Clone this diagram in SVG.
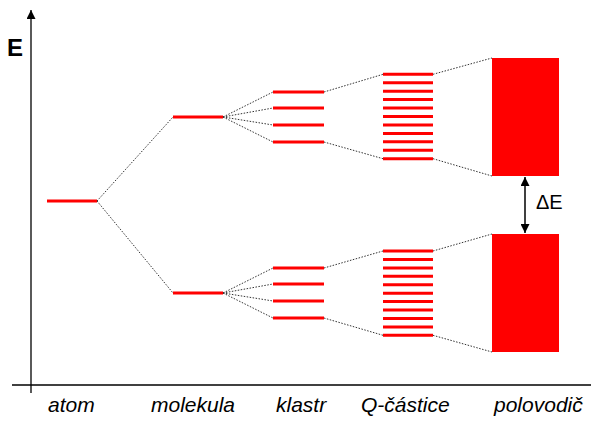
<svg xmlns="http://www.w3.org/2000/svg" width="591" height="421" viewBox="0 0 591 421">
<style>
.lvl{stroke:#ff0000;stroke-width:3;fill:none}
.dot{stroke:#333;stroke-width:1;stroke-dasharray:1.5,1.5;fill:none}
.ax{stroke:#000;stroke-width:1.3;fill:none}
.lab{font-family:"Liberation Sans",Arial,sans-serif;font-style:italic;font-size:21px;fill:#000}
.band{fill:#ff0000}
</style>
<defs>
<marker id="ah" viewBox="0 0 10 10" refX="10" refY="5" markerWidth="9" markerHeight="9" markerUnits="userSpaceOnUse" orient="auto-start-reverse">
<path d="M0,0 L10,5 L0,10 Z" fill="#000"/>
</marker>
</defs>
<g id="axes">
<line class="ax" x1="31" y1="393" x2="31" y2="10" marker-end="url(#ah)"/>
<line class="ax" x1="12" y1="385" x2="591" y2="385"/>
<text x="7" y="56" font-family="Liberation Sans,Arial,sans-serif" font-weight="bold" font-size="24">E</text>
</g>
<g id="connectors">
<line class="dot" x1="97" y1="201" x2="173" y2="117"/>
<line class="dot" x1="97" y1="201" x2="173" y2="293"/>
<line class="dot" x1="223" y1="117" x2="273" y2="92"/>
<line class="dot" x1="223" y1="117" x2="273" y2="108"/>
<line class="dot" x1="223" y1="117" x2="273" y2="125"/>
<line class="dot" x1="223" y1="117" x2="273" y2="142"/>
<line class="dot" x1="223" y1="293" x2="273" y2="268"/>
<line class="dot" x1="223" y1="293" x2="273" y2="284"/>
<line class="dot" x1="223" y1="293" x2="273" y2="301"/>
<line class="dot" x1="223" y1="293" x2="273" y2="318"/>
<line class="dot" x1="324" y1="92" x2="383" y2="74.3"/>
<line class="dot" x1="324" y1="142" x2="383" y2="158.7"/>
<line class="dot" x1="324" y1="268" x2="383" y2="251"/>
<line class="dot" x1="324" y1="318" x2="383" y2="335.3"/>
<line class="dot" x1="433" y1="74.3" x2="492" y2="58"/>
<line class="dot" x1="433" y1="158.7" x2="492" y2="176"/>
<line class="dot" x1="433" y1="251" x2="492" y2="234"/>
<line class="dot" x1="433" y1="335.3" x2="492" y2="352"/>
<line stroke="#000" stroke-width="1.5" x1="525" y1="177" x2="525" y2="233" marker-start="url(#ah)" marker-end="url(#ah)"/>
</g>
<g id="atom">
<line class="lvl" x1="47" y1="201" x2="97" y2="201"/>
<text class="lab" x="48" y="412">atom</text>
</g>
<g id="molekula">
<line class="lvl" x1="173" y1="117" x2="223" y2="117"/>
<line class="lvl" x1="173" y1="293" x2="223" y2="293"/>
<text class="lab" x="151" y="412">molekula</text>
</g>
<g id="klastr">
<line class="lvl" x1="273" y1="92" x2="324" y2="92"/>
<line class="lvl" x1="273" y1="108" x2="324" y2="108"/>
<line class="lvl" x1="273" y1="125" x2="324" y2="125"/>
<line class="lvl" x1="273" y1="142" x2="324" y2="142"/>
<line class="lvl" x1="273" y1="268" x2="324" y2="268"/>
<line class="lvl" x1="273" y1="284" x2="324" y2="284"/>
<line class="lvl" x1="273" y1="301" x2="324" y2="301"/>
<line class="lvl" x1="273" y1="318" x2="324" y2="318"/>
<text class="lab" x="276" y="412">klastr</text>
</g>
<g id="q-castice">
<line class="lvl" x1="383" y1="74.3" x2="433" y2="74.3"/>
<line class="lvl" x1="383" y1="82.7" x2="433" y2="82.7"/>
<line class="lvl" x1="383" y1="91.2" x2="433" y2="91.2"/>
<line class="lvl" x1="383" y1="99.6" x2="433" y2="99.6"/>
<line class="lvl" x1="383" y1="108.1" x2="433" y2="108.1"/>
<line class="lvl" x1="383" y1="116.5" x2="433" y2="116.5"/>
<line class="lvl" x1="383" y1="124.9" x2="433" y2="124.9"/>
<line class="lvl" x1="383" y1="133.4" x2="433" y2="133.4"/>
<line class="lvl" x1="383" y1="141.8" x2="433" y2="141.8"/>
<line class="lvl" x1="383" y1="150.3" x2="433" y2="150.3"/>
<line class="lvl" x1="383" y1="158.7" x2="433" y2="158.7"/>
<line class="lvl" x1="383" y1="251" x2="433" y2="251"/>
<line class="lvl" x1="383" y1="259.4" x2="433" y2="259.4"/>
<line class="lvl" x1="383" y1="267.9" x2="433" y2="267.9"/>
<line class="lvl" x1="383" y1="276.3" x2="433" y2="276.3"/>
<line class="lvl" x1="383" y1="284.7" x2="433" y2="284.7"/>
<line class="lvl" x1="383" y1="293.2" x2="433" y2="293.2"/>
<line class="lvl" x1="383" y1="301.6" x2="433" y2="301.6"/>
<line class="lvl" x1="383" y1="310" x2="433" y2="310"/>
<line class="lvl" x1="383" y1="318.4" x2="433" y2="318.4"/>
<line class="lvl" x1="383" y1="326.9" x2="433" y2="326.9"/>
<line class="lvl" x1="383" y1="335.3" x2="433" y2="335.3"/>
<text class="lab" x="361" y="412">Q-částice</text>
</g>
<g id="polovodic">
<rect class="band" x="492" y="58" width="67" height="118"/>
<rect class="band" x="492" y="234" width="67" height="118"/>
<text class="lab" x="494" y="412">polovodič</text>
<text x="536" y="209" font-family="Liberation Sans,Arial,sans-serif" font-size="20">ΔE</text>
</g>
</svg>
